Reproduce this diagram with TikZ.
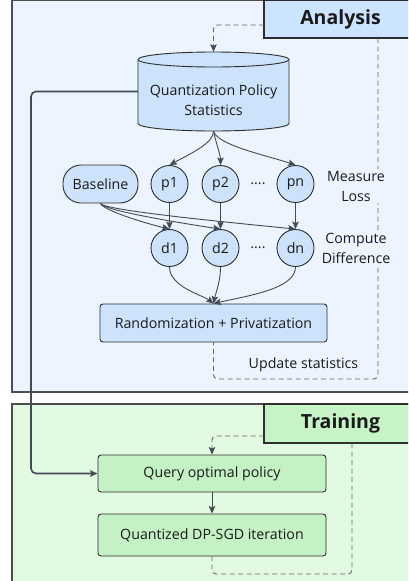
\documentclass[tikz,border=0pt]{standalone}
\usepackage{fontspec}
\setmainfont{Open Sans}
\usetikzlibrary{arrows.meta,shapes.misc,calc}
\definecolor{abg}{HTML}{EBF4FF}
\definecolor{anode}{HTML}{CCE3FB}
\definecolor{atitle}{HTML}{CCE4FF}
\definecolor{tbg}{HTML}{E2F9E2}
\definecolor{tnode}{HTML}{C4F2C4}
\definecolor{ttitle}{HTML}{C6F4C6}
\definecolor{edgec}{HTML}{454B55}
\definecolor{bord}{HTML}{2E2E2E}
\definecolor{dashc}{HTML}{666666}
\definecolor{txt}{HTML}{1A1A1A}
\begin{document}
\begin{tikzpicture}[x=1pt,y=-1pt,
  every node/.style={text=txt},
  font=\fontsize{14.2}{20}\selectfont,
  frame/.style={draw=bord!85, line width=1.4pt},
  titlebox/.style={draw=bord, line width=1.4pt, font=\fontsize{19.5}{22}\selectfont\bfseries, inner sep=0pt},
  nodebox/.style={draw=bord, line width=0.9pt, rounded corners=3pt, inner sep=0pt},
  circ/.style={circle, draw=bord, line width=0.9pt, fill=anode, minimum size=37pt, inner sep=0pt},
  tip/.style={-{Stealth[length=7.5pt,width=6.5pt,inset=1.5pt]}},
  dtip/.style={-{Stealth[length=7.5pt,width=6.5pt,inset=1.5pt,color=edgec]}},
  arr/.style={draw=edgec, line width=0.9pt, tip},
  solidline/.style={draw=edgec, line width=1.6pt, rounded corners=5pt},
  dashline/.style={draw=dashc, line width=0.9pt, dash pattern=on 5pt off 3.5pt, rounded corners=4pt},
  lbl/.style={fill=abg, align=center, inner sep=2pt},
]
\useasboundingbox (0,0) rectangle (408,581);
\clip (0,0) rectangle (408,581);

% ---------- frames ----------
\draw[frame, fill=abg] (12,0.7) rectangle (440,392);
\draw[frame, fill=tbg] (12,404) rectangle (440,600);
\node[titlebox, fill=atitle, minimum width=153pt, minimum height=37.5pt] (atitle) at (340.5,19.4) {Analysis};
\node[titlebox, fill=ttitle, minimum width=153pt, minimum height=39pt] (ttitle) at (340.5,423.5) {Training};

% ---------- cylinder ----------
\node[minimum width=151pt, minimum height=79pt, inner sep=0pt] (cyl) at (213.5,91.5) {};
\filldraw[fill=anode, draw=bord, line width=0.9pt]
  (138,59.5) -- (138,123.5) arc[start angle=180, end angle=360, x radius=75.5pt, y radius=7.5pt]
  -- (289,59.5) arc[start angle=0, end angle=180, x radius=75.5pt, y radius=7.5pt] -- cycle;
\draw[draw=bord, line width=0.9pt] (138,59.5) arc[start angle=180, end angle=360, x radius=75.5pt, y radius=7.5pt];
\node[align=center] (cyltext) at (213.5,100) {Quantization Policy\\Statistics};

% ---------- nodes ----------
\node[nodebox, fill=anode, rounded corners=18pt, minimum width=75pt, minimum height=38pt] (base) at (100.5,184) {Baseline};
\node[circ] (p1) at (169.5,184) {p1};
\node[circ] (p2) at (220.5,184) {p2};
\node (pdots) at (258,184) {....};
\node[circ] (pn) at (295.5,184) {pn};

\node[circ] (d1) at (169.5,248) {d1};
\node[circ] (d2) at (220.5,248) {d2};
\node (ddots) at (258,248) {....};
\node[circ] (dn) at (295.5,248) {dn};

\node[nodebox, fill=anode, minimum width=227pt, minimum height=38pt] (rand) at (213.5,323) {Randomization + Privatization};

\node[nodebox, fill=tnode, minimum width=228pt, minimum height=37pt] (query) at (212,473.5) {Query optimal policy};
\node[nodebox, fill=tnode, minimum width=228pt, minimum height=42pt] (quant) at (212,535) {Quantized DP-SGD iteration};

% ---------- dashed feedback (analysis) ----------
\coordinate (atin) at (264,25);
\coordinate (aout) at (378,38);
\draw[dashline, dtip] (atin) -| (cyl.north);
\draw[dashline] (aout) -- (378,379) -| (rand.south);

\node[lbl] (ml) at (356,186) {Measure\\Loss};
\node[lbl] (cd) at (356,248) {Compute\\Difference};
\node (upd) at (303.5,365) {Update statistics};

% ---------- edges ----------
\draw[arr] (cyl.south) .. controls +(0,12) and +(22,-12) .. (p1.north);
\draw[arr] (cyl.south) .. controls +(2,10) and +(0,-10) .. (p2.north);
\draw[arr] (cyl.south) .. controls +(4,14) and +(-30,-10) .. (pn.north);

\draw[arr] (p1) -- (d1);
\draw[arr] (p2) -- (d2);
\draw[arr] (pn) -- (dn);

\draw[arr] (base.south) .. controls +(3,7) and +(-25,-6) .. (d1.north);
\draw[arr] (base.south) .. controls +(3,7) and +(-40,-6) .. (d2.north);
\draw[arr] (base.south) .. controls +(3,7) and +(-60,-6) .. (dn.north);

\draw[arr] (d1.south) .. controls +(0,20) and +(-10,-8) .. (rand.north);
\draw[arr] (d2.south) .. controls +(0,15) and +(2,-10) .. (rand.north);
\draw[arr] (dn.south) .. controls +(0,22) and +(35,-8) .. (rand.north);

% ---------- solid link to training ----------
\coordinate (bend) at (31,0);
\draw[solidline, tip] (cyl.west) -| (bend |- query.west) -- (query.west);

% ---------- training ----------
\coordinate (tin) at (264,436);
\coordinate (tout) at (352,443);
\draw[dashline, dtip] (tin) -| (query.north);
\draw[dashline] (tout) -- (352,574) -| (quant.south);
\draw[arr] (query) -- (quant);
\end{tikzpicture}
\end{document}
